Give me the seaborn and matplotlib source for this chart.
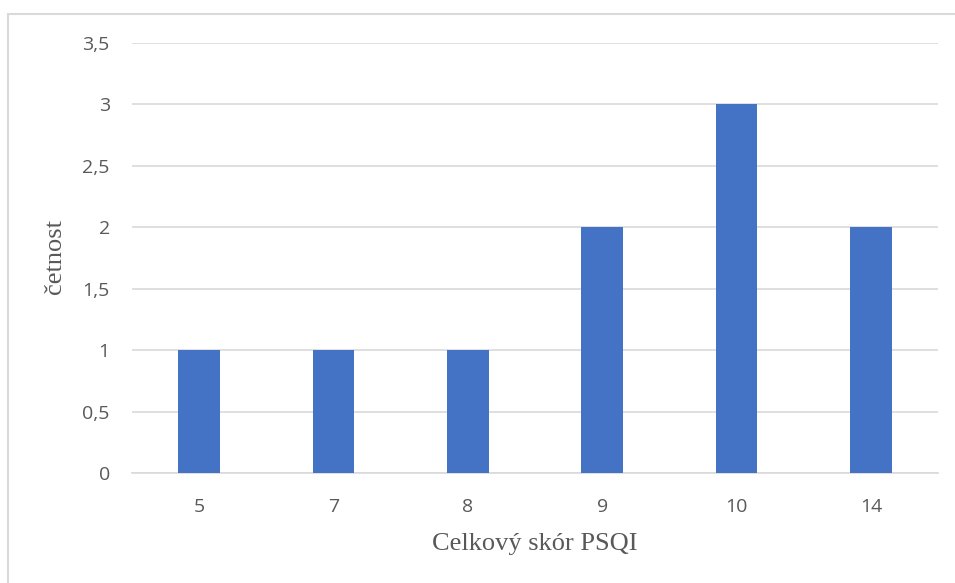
import matplotlib
matplotlib.use("Agg")
import matplotlib.pyplot as plt
import seaborn as sns
import pandas as pd
from matplotlib.patches import Rectangle
from matplotlib.ticker import FuncFormatter, MultipleLocator

scores = ["5", "7", "8", "9", "10", "14"]
counts = [1, 1, 1, 2, 3, 2]

df = pd.DataFrame({"score": scores, "count": counts})

sns.set_theme(style="white")
plt.rcParams["font.family"] = ["Open Sans", "DejaVu Sans"]

W, H = 955, 583
fig = plt.figure(figsize=(W / 100, H / 100), dpi=100)
ax = fig.add_axes([132 / W, 1 - 473 / H, (938 - 132) / W, (473 - 43) / H])

sns.barplot(data=df, x="score", y="count", color="#4472C4", width=0.31,
            saturation=1, linewidth=0, ax=ax, zorder=3)

ax.set_ylim(0, 3.5)
ax.set_xlim(-0.5, len(scores) - 0.5)
ax.yaxis.set_major_locator(MultipleLocator(0.5))
ax.yaxis.set_major_formatter(FuncFormatter(lambda v, p: f"{v:g}".replace(".", ",")))
ax.grid(axis="y", color="#D9D9D9", linewidth=1.2, zorder=0)
ax.grid(axis="x", visible=False)
for s in ["top", "right", "left"]:
    ax.spines[s].set_visible(False)
ax.spines["bottom"].set_color("#D9D9D9")
ax.spines["bottom"].set_linewidth(1.2)
ax.tick_params(axis="both", length=0, labelsize=14, labelcolor="#595959")
ax.tick_params(axis="y", pad=16)
ax.tick_params(axis="x", pad=18)
ax.set_xlabel("")
ax.set_ylabel("")

fig.text(535 / W, 1 - 544 / H, "Celkový skór PSQI", ha="center", va="center",
         family="Liberation Serif", fontsize=19, color="#595959")
fig.text(55 / W, 1 - 257 / H, "četnost", ha="center", va="center", rotation=90,
         family="Liberation Serif", fontsize=19, color="#595959")

# chart frame
fig.patches.append(Rectangle((8 / W, -0.05), 1.1, 1 - 14 / H + 0.05,
                             transform=fig.transFigure, fill=False,
                             edgecolor="#D9D9D9", linewidth=1.5))

fig.savefig("out.png", dpi=100)
